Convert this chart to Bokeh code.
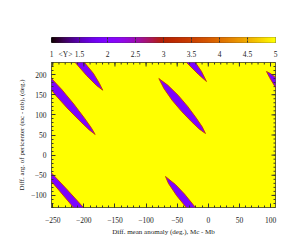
import numpy as np
from bokeh.plotting import figure
from bokeh.layouts import column
from bokeh.models import (Range1d, LinearColorMapper, FixedTicker, LinearAxis,
                          ColumnDataSource)
from bokeh.embed import file_html
from bokeh.resources import INLINE

# ---------------- data ----------------
x_ticks = [-250, -200, -150, -100, -50, 0, 50, 100]
y_ticks = [-100, -50, 0, 50, 100, 150, 200]
x_minor = list(range(-250, 110, 10))
y_minor = list(range(-130, 231, 10))
cb_ticks = [1, 1.25, 1.5, 2, 2.5, 3, 3.5, 4, 4.5, 5]
cb_labels = {1.25: "<Y>"}
cb_marks = [1.5, 2, 2.5, 3, 3.5, 4, 4.5]
x_lim = [-252, 108]
y_lim = [-130, 230]
cb_lim = [1, 5]

background_level = 5.0   # <Y> over most of the plane
stripe_level = 1.95      # <Y> inside the stripes
edge_level = 3.4         # <Y> on the stripe rims

# stripe outlines (deg, deg)
sA_x = [-279.3, -255.5, -235.1, -216.2, -198.2, -187.9, -181.8, -191.4, -204.4, -225.5, -245.4, -264.1]
sA_y = [225.0, 196.0, 162.3, 127.0, 90.2, 67.6, 51.3, 62.7, 81.8, 114.6, 148.7, 184.6]
sB_x = [-79.5, -65.2, -48.5, -33.4, -19.6, -9.8, -4.5, -14.3, -27.0, -43.1, -58.2, -71.4]
sB_y = [190.3, 173.9, 148.8, 121.5, 92.7, 70.4, 53.7, 64.4, 83.0, 108.8, 136.2, 165.7]
sC1_x = [-227.9, -211.8, -199.0, -184.5, -174.9, -169.6, -179.7, -195.7, -213.9]
sC1_y = [254.8, 254.8, 230, 202.7, 177.9, 161.2, 172.9, 197.7, 230]
sC2_x = [-260.0, -252, -226.3, -200.6, -189.3, -205.4, -216.6, -252, -260.0]
sC2_y = [-38.1, -44.3, -86.5, -130, -149.8, -149.8, -130, -65.4, -50.5]
sD1_x = [-44.7, -30.2, -20.6, -10.9, -2.9, -15.7, -35.0]
sD1_y = [247.4, 247.4, 230, 207.7, 182.8, 200.2, 230]
sD2_x = [-68.8, -52.7, -38.2, -20.6, -10.9, -27.0, -35.5, -51.1, -64.0]
sD2_y = [-53.0, -72.9, -96.5, -130, -147.4, -147.4, -130, -100.2, -70.4]
sE_x = [93.5, 100.0, 108, 122.5, 122.5, 108, 98.4]
sE_y = [207.7, 202.7, 192.8, 175.4, 145.6, 167.9, 192.8]

stripes_x = [sA_x, sB_x, sC1_x, sC2_x, sD1_x, sD2_x, sE_x]
stripes_y = [sA_y, sB_y, sC1_y, sC2_y, sD1_y, sD2_y, sE_y]

# ---------------- palette (gnuplot rgbformulae 7,5,15) ----------------
t = np.linspace(0, 1, 256)
r = np.sqrt(t)
g = t ** 3
b = np.clip(np.sin(2 * np.pi * t), 0, 1)
palette = ["#%02x%02x%02x" % (int(round(rr * 255)), int(round(gg * 255)), int(round(bb * 255)))
           for rr, gg, bb in zip(r, g, b)]
mapper = LinearColorMapper(palette=palette, low=cb_lim[0], high=cb_lim[1])

FONT = "Liberation Serif"
W = 299
TICK = "#333333"
TXT = "#222222"

# ---------------- colour bar figure ----------------
cb = figure(width=W, height=61, x_range=Range1d(*cb_lim), y_range=Range1d(0, 1),
            output_backend="svg", toolbar_location=None,
            min_border_left=49, min_border_right=23, min_border_top=37, min_border_bottom=16,
            x_axis_location=None, y_axis_location=None)
levels = np.linspace(cb_lim[0], cb_lim[1], len(palette) + 1)
cb.quad(left=levels[:-1], right=levels[1:], bottom=0, top=1,
        fill_color=palette, line_color=palette, line_width=1)
cb.scatter(x=cb_marks, y=[0] * len(cb_marks), marker="dash", angle=np.pi / 2,
           size=4, line_color=TICK, line_width=1)
cb.scatter(x=cb_marks, y=[1] * len(cb_marks), marker="dash", angle=np.pi / 2,
           size=4, line_color=TICK, line_width=1)
cb.grid.visible = False
cb.outline_line_color = "#444444"
cb.border_fill_color = "white"

cb_bottom = LinearAxis(ticker=FixedTicker(ticks=cb_ticks), major_label_overrides=cb_labels)
cb_bottom.axis_line_color = None
cb_bottom.major_tick_line_color = None
cb_bottom.minor_tick_line_color = None
cb_bottom.major_tick_out = 0
cb_bottom.major_tick_in = 0
cb_bottom.minor_tick_out = 0
cb_bottom.major_label_standoff = 7
cb_bottom.major_label_text_font = FONT
cb_bottom.major_label_text_font_size = "7.5px"
cb_bottom.major_label_text_color = TXT
cb.add_layout(cb_bottom, "below")

# ---------------- main heat map ----------------
p = figure(width=W, height=187, x_range=Range1d(*x_lim), y_range=Range1d(*y_lim),
           output_backend="svg", toolbar_location=None,
           min_border_left=51, min_border_right=24, min_border_top=1, min_border_bottom=41,
           x_axis_location=None, y_axis_location=None)
p.grid.visible = False
p.outline_line_color = TICK
p.background_fill_color = "white"
p.border_fill_color = "white"

p.image(image=[np.array([[background_level]])], x=x_lim[0], y=y_lim[0],
        dw=x_lim[1] - x_lim[0], dh=y_lim[1] - y_lim[0], color_mapper=mapper)

src = ColumnDataSource(dict(xs=stripes_x, ys=stripes_y,
                            val=[stripe_level] * len(stripes_x),
                            edge=[edge_level] * len(stripes_x)))
p.patches("xs", "ys", source=src,
          fill_color={"field": "val", "transform": mapper},
          line_color={"field": "edge", "transform": mapper},
          line_width=1, line_alpha=0.85)

# mirrored tick marks on the top and right edges (half of each dash lies inside)
p.scatter(x=x_ticks, y=[y_lim[1]] * len(x_ticks), marker="dash", angle=np.pi / 2,
          size=8, line_color=TICK, line_width=1)
p.scatter(x=x_minor, y=[y_lim[1]] * len(x_minor), marker="dash", angle=np.pi / 2,
          size=4, line_color=TICK, line_width=1)
p.scatter(x=[x_lim[1]] * len(y_ticks), y=y_ticks, marker="dash",
          size=8, line_color=TICK, line_width=1)
p.scatter(x=[x_lim[1]] * len(y_minor), y=y_minor, marker="dash",
          size=4, line_color=TICK, line_width=1)


def style_axis(ax):
    ax.axis_line_color = None
    ax.major_tick_in = 4
    ax.major_tick_out = 0
    ax.minor_tick_in = 2
    ax.minor_tick_out = 0
    ax.major_tick_line_color = TICK
    ax.minor_tick_line_color = TICK
    ax.major_label_text_font = FONT
    ax.major_label_text_font_size = "7.5px"
    ax.major_label_text_color = TXT
    ax.axis_label_text_font = FONT
    ax.axis_label_text_font_style = "normal"
    ax.axis_label_text_color = TXT
    ax.axis_label_text_font_size = "7px"


xb = LinearAxis(ticker=FixedTicker(ticks=x_ticks, minor_ticks=x_minor),
                axis_label="Diff. mean anomaly (deg.), Mc - Mb")
style_axis(xb)
xb.major_label_standoff = 9
xb.axis_label_standoff = 2
p.add_layout(xb, "below")

yl = LinearAxis(ticker=FixedTicker(ticks=y_ticks, minor_ticks=y_minor),
                axis_label="Diff. arg. of pericenter (ϖc - ϖb), (deg.)")
style_axis(yl)
yl.major_label_standoff = 5
yl.axis_label_standoff = 2
p.add_layout(yl, "left")

layout = column(cb, p, spacing=0)
open("out.html", "w").write(file_html(layout, INLINE))
